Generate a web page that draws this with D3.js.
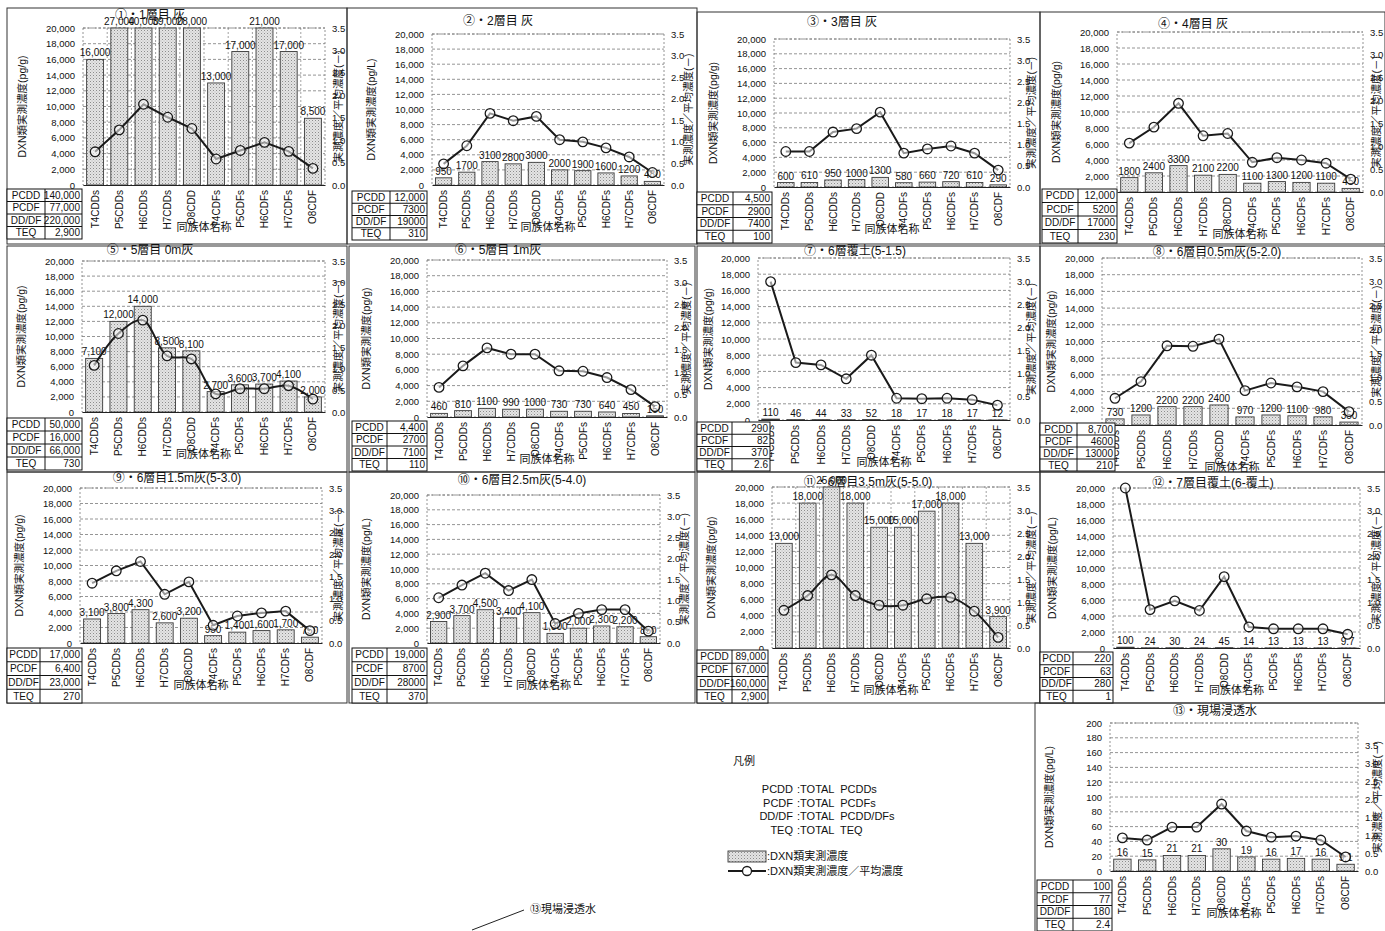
<!DOCTYPE html>
<html>
<head>
<meta charset="utf-8">
<script src="https://cdn.jsdelivr.net/npm/d3@7/dist/d3.min.js"></script>
<style>
  html, body { margin: 0; padding: 0; background: #fff; }
  svg { display: block; }
  text { font-family: "Liberation Sans", Arial, "Noto Sans CJK JP", sans-serif; fill: #111; }
</style>
</head>
<body>
<script>
// Homologue groups on the x axis
const congeners = ["T4CDDs", "P5CDDs", "H6CDDs", "H7CDDs", "O8CDD", "T4CDFs", "P5CDFs", "H6CDFs", "H7CDFs", "O8CDF"];
const tableRows = ["PCDD", "PCDF", "DD/DF", "TEQ"];
const ticksLeft = [0, 2000, 4000, 6000, 8000, 10000, 12000, 14000, 16000, 18000, 20000];
const ticksLeftWater = [0, 20, 40, 60, 80, 100, 120, 140, 160, 180, 200];
const ticksRight = [0, 0.5, 1.0, 1.5, 2.0, 2.5, 3.0, 3.5];

// Measured concentration per homologue, ratio to mean concentration, and totals
const conc01 = [16000, 27000, 40000, 39000, 28000, 13000, 17000, 21000, 17000, 8500];
const ratio01 = [0.74, 1.23, 1.80, 1.51, 1.26, 0.58, 0.77, 0.95, 0.75, 0.37];
const total01 = ["140,000", "77,000", "220,000", "2,900"];

const conc02 = [950, 1700, 3100, 2800, 3000, 2000, 1900, 1600, 1200, 480];
const ratio02 = [0.49, 0.91, 1.66, 1.49, 1.59, 1.05, 1.00, 0.86, 0.65, 0.29];
const total02 = ["12,000", "7300", "19000", "310"];

const conc03 = [600, 610, 950, 1000, 1300, 580, 660, 720, 610, 290];
const ratio03 = [0.84, 0.84, 1.30, 1.38, 1.77, 0.80, 0.90, 0.97, 0.80, 0.40];
const total03 = ["4,500", "2900", "7400", "100"];

const conc04 = [1800, 2400, 3300, 2100, 2200, 1100, 1300, 1200, 1100, 450];
const ratio04 = [1.07, 1.42, 1.94, 1.23, 1.28, 0.65, 0.75, 0.70, 0.63, 0.28];
const total04 = ["12,000", "5200", "17000", "230"];

const conc05 = [7100, 12000, 14000, 8500, 8100, 2700, 3600, 3700, 4100, 2000];
const ratio05 = [1.08, 1.82, 2.13, 1.30, 1.23, 0.42, 0.54, 0.54, 0.61, 0.30];
const total05 = ["50,000", "16,000", "66,000", "730"];

const conc06 = [460, 810, 1100, 990, 1000, 730, 730, 640, 450, 150];
const ratio06 = [0.66, 1.14, 1.54, 1.40, 1.40, 1.03, 1.02, 0.88, 0.61, 0.23];
const total06 = ["4,400", "2700", "7100", "110"];

const conc07 = [110, 46, 44, 33, 52, 18, 17, 18, 17, 12];
const ratio07 = [2.99, 1.24, 1.19, 0.89, 1.40, 0.47, 0.46, 0.47, 0.44, 0.32];
const total07 = ["290", "82", "370", "2.6"];

const conc08 = [730, 1200, 2200, 2200, 2400, 970, 1200, 1100, 980, 350];
const ratio08 = [0.56, 0.91, 1.66, 1.65, 1.80, 0.72, 0.88, 0.80, 0.70, 0.28];
const total08 = ["8,700", "4600", "13000", "210"];

const conc09 = [3100, 3800, 4300, 2600, 3200, 950, 1400, 1600, 1700, 750];
const ratio09 = [1.35, 1.63, 1.84, 1.10, 1.38, 0.40, 0.61, 0.68, 0.72, 0.28];
const total09 = ["17,000", "6,400", "23,000", "270"];

const conc10 = [2900, 3700, 4500, 3400, 4100, 1300, 2000, 2300, 2200, 850];
const ratio10 = [1.07, 1.37, 1.65, 1.24, 1.50, 0.46, 0.70, 0.79, 0.79, 0.28];
const total10 = ["19,000", "8700", "28000", "370"];

const conc11 = [13000, 18000, 25000, 18000, 15000, 15000, 17000, 18000, 13000, 3900];
const ratio11 = [0.82, 1.14, 1.59, 1.14, 0.93, 0.93, 1.07, 1.10, 0.80, 0.23];
const total11 = ["89,000", "67,000", "160,000", "2,900"];

const conc12 = [100, 24, 30, 24, 45, 14, 13, 13, 13, 9.7];
const ratio12 = [3.50, 0.84, 1.03, 0.82, 1.56, 0.46, 0.42, 0.42, 0.42, 0.30];
const total12 = ["220", "63", "280", "1"];

const conc13 = [16, 15, 21, 21, 30, 19, 16, 17, 16, 9.1];
const ratio13 = [0.92, 0.86, 1.22, 1.22, 1.86, 1.11, 0.94, 0.97, 0.86, 0.39];
const total13 = ["100", "77", "180", "2.4"];

const titles = [
  "①・1層目 灰", "②・2層目 灰", "③・3層目 灰", "④・4層目 灰",
  "⑤・5層目 0m灰", "⑥・5層目 1m灰", "⑦・6層覆土(5-1.5)", "⑧・6層目0.5m灰(5-2.0)",
  "⑨・6層目1.5m灰(5-3.0)", "⑩・6層目2.5m灰(5-4.0)", "⑪・6層目3.5m灰(5-5.0)", "⑫・7層目覆土(6-覆土)",
  "⑬・現場浸透水"
];
const units = ["pg/g", "pg/L", "pg/g", "pg/g", "pg/g", "pg/g", "pg/g", "pg/g", "pg/g", "pg/L", "pg/g", "pg/L", "pg/L"];

const legendAbbr = ["PCDD", "PCDF", "DD/DF", "TEQ"];
const legendFull = [":TOTAL  PCDDs", ":TOTAL  PCDFs", ":TOTAL  PCDD/DFs", ":TOTAL  TEQ"];

// Panel geometry: frame box, plot box [l,t,r,b], table [x0, split, x1, y0, y1], title centre
const layout = [
  { frame: [7, 8, 347, 244],     plot: [83, 28, 325, 185],     table: [7, 45, 82, 189, 239],       title: [150, 16],  vgrid: true },
  { frame: [347, 8, 697, 244],   plot: [432, 34, 664, 185],    table: [352, 390, 427, 191, 240],   title: [498, 22] },
  { frame: [697, 12, 1040, 244], plot: [774, 39, 1010, 187],   table: [697, 733, 772, 192, 243],   title: [842, 23] },
  { frame: [1040, 12, 1385, 244],plot: [1117, 32, 1363, 192],  table: [1042, 1078, 1117, 189, 243],title: [1193, 25] },
  { frame: [7, 246, 347, 472],   plot: [82, 261, 325, 412],    table: [7, 45, 82, 418, 470],       title: [150, 251], smooth: true },
  { frame: [349, 246, 695, 472], plot: [427, 260, 667, 417],   table: [352, 387, 427, 421, 471],   title: [498, 251] },
  { frame: [697, 246, 1040, 472],plot: [758, 258, 1010, 420],  table: [697, 732, 770, 422, 471],   title: [855, 252] },
  { frame: [1040, 246, 1385, 472],plot: [1102, 258, 1362, 425],table: [1040, 1077, 1115, 423, 471],title: [1217, 253] },
  { frame: [7, 472, 347, 703],   plot: [80, 488, 322, 643],    table: [7, 40, 82, 648, 703],       title: [177, 479] },
  { frame: [349, 472, 695, 703], plot: [427, 495, 660, 643],   table: [352, 387, 427, 648, 703],   title: [522, 481] },
  { frame: [697, 472, 1040, 703],plot: [772, 487, 1010, 648],  table: [697, 732, 768, 650, 703],   title: [868, 483], vgrid: true, smooth: true },
  { frame: [1040, 472, 1385, 703],plot: [1113, 488, 1360, 648],table: [1040, 1073, 1113, 652, 703],title: [1213, 484] },
  { frame: [1035, 703, 1386, 932],plot: [1110, 723, 1358, 871],table: [1037, 1073, 1112, 880, 931],title: [1215, 712], rTop: 745, water: true }
];

const series = [
  [conc01, ratio01, total01, true], [conc02, ratio02, total02, false],
  [conc03, ratio03, total03, false], [conc04, ratio04, total04, false],
  [conc05, ratio05, total05, true], [conc06, ratio06, total06, false],
  [conc07, ratio07, total07, false], [conc08, ratio08, total08, false],
  [conc09, ratio09, total09, true], [conc10, ratio10, total10, true],
  [conc11, ratio11, total11, true], [conc12, ratio12, total12, false],
  [conc13, ratio13, total13, false]
];

const W = 1385, H = 931;
const svg = d3.select("body").append("svg").attr("width", W).attr("height", H);

const defs = svg.append("defs");
const pat = defs.append("pattern").attr("id", "stipple")
  .attr("width", 3).attr("height", 3).attr("patternUnits", "userSpaceOnUse");
pat.append("rect").attr("width", 3).attr("height", 3).attr("fill", "#e4e4e4");
pat.append("rect").attr("width", 1).attr("height", 1).attr("fill", "#8c8c8c");
pat.append("rect").attr("x", 1.5).attr("y", 1.5).attr("width", 1).attr("height", 1).attr("fill", "#b4b4b4");

const fmtComma = d3.format(",");
const fmtRight = d3.format(".1f");

function drawPanel(idx) {
  const lay = layout[idx];
  const [conc, ratio, totals, comma] = series[idx];
  const g = svg.append("g");
  const [l, t, r, b] = lay.plot;
  const ticks = lay.water ? ticksLeftWater : ticksLeft;
  const yMax = ticks[ticks.length - 1];

  const x = d3.scaleBand().domain(congeners).range([l, r]).paddingInner(0.3).paddingOuter(0.15);
  const y = d3.scaleLinear().domain([0, yMax]).range([b, t]).clamp(true);
  const yr = d3.scaleLinear().domain([0, 3.5]).range([b, lay.rTop || t]);
  const step = x.step();
  const bw = x.bandwidth();

  // cell frame
  const [fx0, fy0, fx1, fy1] = lay.frame;
  g.append("rect").attr("x", fx0).attr("y", fy0).attr("width", fx1 - fx0).attr("height", fy1 - fy0)
    .attr("fill", "none").attr("stroke", "#333").attr("stroke-width", 1);

  // horizontal grid
  g.append("g").selectAll("line").data(ticks.filter(v => v > 0)).join("line")
    .attr("x1", l).attr("x2", r).attr("y1", d => y(d)).attr("y2", d => y(d))
    .attr("stroke", "#7a7a7a").attr("stroke-width", 0.8).attr("stroke-dasharray", "3,2");

  // vertical grid between groups
  if (lay.vgrid) {
    g.append("g").selectAll("line").data(congeners.slice(1)).join("line")
      .attr("x1", d => x(d) - (step - bw) / 2).attr("x2", d => x(d) - (step - bw) / 2)
      .attr("y1", t).attr("y2", b)
      .attr("stroke", "#8a8a8a").attr("stroke-width", 0.8).attr("stroke-dasharray", "2,2");
  }

  // plot area outline
  g.append("rect").attr("x", l).attr("y", t).attr("width", r - l).attr("height", b - t)
    .attr("fill", "none").attr("stroke", "#7a7a7a").attr("stroke-width", 0.8).attr("stroke-dasharray", "2,2");

  // bars
  g.append("g").selectAll("rect").data(congeners).join("rect")
    .attr("x", d => x(d)).attr("width", bw)
    .attr("y", (d, i) => y(conc[i])).attr("height", (d, i) => b - y(conc[i]))
    .attr("fill", "url(#stipple)").attr("stroke", "#3a3a3a").attr("stroke-width", 0.9);

  // bar value labels
  g.append("g").selectAll("text").data(congeners).join("text")
    .attr("x", d => x(d) + bw / 2).attr("y", (d, i) => y(conc[i]) - 3)
    .attr("text-anchor", "middle").attr("font-size", 10)
    .text((d, i) => comma ? fmtComma(conc[i]) : String(conc[i]));

  // ratio line with open markers
  const pts = congeners.map((c, i) => [x(c) + bw / 2, yr(ratio[i])]);
  const line = d3.line().curve(lay.smooth ? d3.curveCatmullRom.alpha(0.5) : d3.curveLinear);
  g.append("path").attr("d", line(pts)).attr("fill", "none")
    .attr("stroke", "#1a1a1a").attr("stroke-width", 2);
  g.append("g").selectAll("circle").data(pts).join("circle")
    .attr("cx", d => d[0]).attr("cy", d => d[1]).attr("r", 4.8)
    .attr("fill", "#fff").attr("fill-opacity", 0.55)
    .attr("stroke", "#1a1a1a").attr("stroke-width", 1.3);

  // left axis
  const axL = g.append("g").attr("transform", `translate(${l},0)`)
    .call(d3.axisLeft(y).tickValues(ticks).tickSize(0).tickPadding(8)
      .tickFormat(lay.water ? d3.format("d") : fmtComma));
  axL.select(".domain").remove();
  axL.selectAll("text").attr("font-size", 9.5).attr("font-family", null).attr("fill", "#111");

  // right axis
  const axR = g.append("g").attr("transform", `translate(${r},0)`)
    .call(d3.axisRight(yr).tickValues(ticksRight).tickSize(0).tickPadding(7).tickFormat(fmtRight));
  axR.select(".domain").remove();
  axR.selectAll("text").attr("font-size", 9.5).attr("font-family", null).attr("fill", "#111");

  // bottom axis with rotated names
  const axB = g.append("g").attr("transform", `translate(0,${b})`)
    .call(d3.axisBottom(x).tickSize(0).tickSizeOuter(0).tickPadding(0));
  axB.select(".domain").attr("stroke", "#222").attr("stroke-width", 1.2);
  axB.selectAll("text").attr("font-size", 10).attr("font-family", null).attr("fill", "#111")
    .attr("transform", "rotate(-90)").attr("text-anchor", "end")
    .attr("x", -5).attr("y", 0).attr("dy", "0.35em");

  // axis titles
  g.append("text").attr("x", (l + r) / 2).attr("y", b + 46)
    .attr("text-anchor", "middle").attr("font-size", 11).text("同族体名称");
  const ltx = Math.max(l - 60, fx0 + 12);
  g.append("text").attr("transform", `translate(${ltx},${(t + b) / 2}) rotate(-90)`)
    .attr("text-anchor", "middle").attr("dominant-baseline", "middle").attr("font-size", 10.5)
    .text(`DXN類実測濃度(${units[idx]})`);
  const rtx = Math.min(r + 25, fx1 - 8);
  g.append("text").attr("transform", `translate(${rtx},${(t + b) / 2}) rotate(-90)`)
    .attr("text-anchor", "middle").attr("dominant-baseline", "middle").attr("font-size", 10.5)
    .text("実測濃度／平均濃度(－)");

  // panel title
  g.append("text").attr("x", lay.title[0]).attr("y", lay.title[1])
    .attr("text-anchor", "middle").attr("dominant-baseline", "middle")
    .attr("font-size", 12).text(titles[idx]);

  // totals table
  const [tx0, tsp, tx1, ty0, ty1] = lay.table;
  const rh = (ty1 - ty0) / tableRows.length;
  const tg = g.append("g");
  tg.append("rect").attr("x", tx0).attr("y", ty0).attr("width", tx1 - tx0).attr("height", ty1 - ty0)
    .attr("fill", "#fff").attr("stroke", "#111").attr("stroke-width", 1);
  tg.append("line").attr("x1", tsp).attr("x2", tsp).attr("y1", ty0).attr("y2", ty1)
    .attr("stroke", "#111").attr("stroke-width", 1);
  tg.selectAll("line.rowsep").data(d3.range(1, tableRows.length)).join("line")
    .attr("class", "rowsep")
    .attr("x1", tx0).attr("x2", tx1).attr("y1", d => ty0 + d * rh).attr("y2", d => ty0 + d * rh)
    .attr("stroke", "#111").attr("stroke-width", 1);
  tg.selectAll("text.rl").data(tableRows).join("text").attr("class", "rl")
    .attr("x", (tx0 + tsp) / 2).attr("y", (d, i) => ty0 + (i + 0.5) * rh)
    .attr("text-anchor", "middle").attr("dominant-baseline", "central").attr("font-size", 10)
    .text(d => d);
  tg.selectAll("text.rv").data(totals).join("text").attr("class", "rv")
    .attr("x", tx1 - 2).attr("y", (d, i) => ty0 + (i + 0.5) * rh)
    .attr("text-anchor", "end").attr("dominant-baseline", "central").attr("font-size", 10)
    .text(d => d);
}

d3.range(layout.length).forEach(drawPanel);

// legend
const lg = svg.append("g");
lg.append("text").attr("x", 733).attr("y", 762).attr("dominant-baseline", "middle")
  .attr("font-size", 11).text("凡例");
lg.selectAll("text.ab").data(legendAbbr).join("text").attr("class", "ab")
  .attr("x", 793).attr("y", (d, i) => 790 + i * 13.7).attr("dominant-baseline", "middle")
  .attr("text-anchor", "end").attr("font-size", 11).text(d => d);
lg.selectAll("text.fu").data(legendFull).join("text").attr("class", "fu")
  .attr("x", 797).attr("y", (d, i) => 790 + i * 13.7).attr("dominant-baseline", "middle")
  .attr("font-size", 11).attr("xml:space", "preserve").style("white-space", "pre").text(d => d);
lg.append("rect").attr("x", 728).attr("y", 851).attr("width", 38).attr("height", 11)
  .attr("fill", "url(#stipple)").attr("stroke", "#3a3a3a").attr("stroke-width", 0.9);
lg.append("text").attr("x", 767).attr("y", 857).attr("dominant-baseline", "middle")
  .attr("font-size", 11).text(":DXN類実測濃度");
lg.append("line").attr("x1", 728).attr("x2", 766).attr("y1", 871).attr("y2", 871)
  .attr("stroke", "#1a1a1a").attr("stroke-width", 1.8);
lg.append("circle").attr("cx", 747).attr("cy", 871).attr("r", 4.5)
  .attr("fill", "#fff").attr("stroke", "#1a1a1a").attr("stroke-width", 1.3);
lg.append("text").attr("x", 767).attr("y", 872).attr("dominant-baseline", "middle")
  .attr("font-size", 11).text(":DXN類実測濃度／平均濃度");

// callout for the seepage water sample
svg.append("line").attr("x1", 472).attr("y1", 930).attr("x2", 524).attr("y2", 910)
  .attr("stroke", "#222").attr("stroke-width", 1);
svg.append("text").attr("x", 530).attr("y", 910).attr("dominant-baseline", "middle")
  .attr("font-size", 11).text("⑬現場浸透水");
</script>
</body>
</html>
